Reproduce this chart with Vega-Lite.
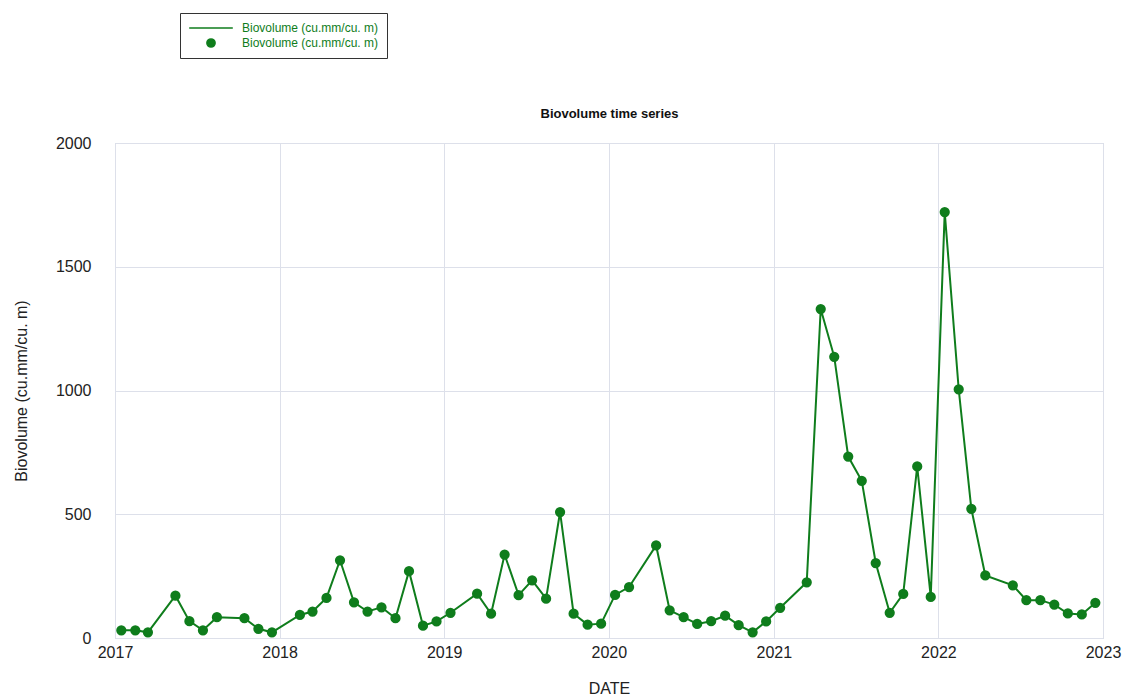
{
  "$schema": "https://vega.github.io/schema/vega-lite/v6.json",
  "width": 988,
  "height": 495,
  "autosize": "none",
  "padding": {"left": 115, "top": 143, "right": 20, "bottom": 60},
  "background": "white",
  "config": {
    "font": "Liberation Sans",
    "view": {"stroke": "#c9ccd6", "strokeWidth": 1},
    "axis": {"gridColor": "#dde0ea", "gridWidth": 1, "domain": false, "ticks": false, "labelFontSize": 16, "labelColor": "#222", "titleFontSize": 16, "titleFontWeight": "normal", "titleColor": "#222"}
  },
  "data": {"values": [
    {"date": "2017-01-15", "v": 31, "kind": "point"},
    {"date": "2017-02-15", "v": 31, "kind": "point"},
    {"date": "2017-03-15", "v": 23, "kind": "point"},
    {"date": "2017-05-15", "v": 171, "kind": "point"},
    {"date": "2017-06-15", "v": 68, "kind": "point"},
    {"date": "2017-07-15", "v": 31, "kind": "point"},
    {"date": "2017-08-15", "v": 84, "kind": "point"},
    {"date": "2017-10-15", "v": 80, "kind": "point"},
    {"date": "2017-11-15", "v": 37, "kind": "point"},
    {"date": "2017-12-15", "v": 23, "kind": "point"},
    {"date": "2018-02-15", "v": 93, "kind": "point"},
    {"date": "2018-03-15", "v": 107, "kind": "point"},
    {"date": "2018-04-15", "v": 162, "kind": "point"},
    {"date": "2018-05-15", "v": 314, "kind": "point"},
    {"date": "2018-06-15", "v": 144, "kind": "point"},
    {"date": "2018-07-15", "v": 107, "kind": "point"},
    {"date": "2018-08-15", "v": 124, "kind": "point"},
    {"date": "2018-09-15", "v": 80, "kind": "point"},
    {"date": "2018-10-15", "v": 270, "kind": "point"},
    {"date": "2018-11-15", "v": 50, "kind": "point"},
    {"date": "2018-12-15", "v": 67, "kind": "point"},
    {"date": "2019-01-15", "v": 102, "kind": "point"},
    {"date": "2019-03-15", "v": 179, "kind": "point"},
    {"date": "2019-04-15", "v": 98, "kind": "point"},
    {"date": "2019-05-15", "v": 337, "kind": "point"},
    {"date": "2019-06-15", "v": 173, "kind": "point"},
    {"date": "2019-07-15", "v": 233, "kind": "point"},
    {"date": "2019-08-15", "v": 159, "kind": "point"},
    {"date": "2019-09-15", "v": 509, "kind": "point"},
    {"date": "2019-10-15", "v": 98, "kind": "point"},
    {"date": "2019-11-15", "v": 54, "kind": "point"},
    {"date": "2019-12-15", "v": 58, "kind": "point"},
    {"date": "2020-01-15", "v": 174, "kind": "point"},
    {"date": "2020-02-15", "v": 206, "kind": "point"},
    {"date": "2020-04-15", "v": 374, "kind": "point"},
    {"date": "2020-05-15", "v": 112, "kind": "point"},
    {"date": "2020-06-15", "v": 84, "kind": "point"},
    {"date": "2020-07-15", "v": 57, "kind": "point"},
    {"date": "2020-08-15", "v": 68, "kind": "point"},
    {"date": "2020-09-15", "v": 90, "kind": "point"},
    {"date": "2020-10-15", "v": 52, "kind": "point"},
    {"date": "2020-11-15", "v": 23, "kind": "point"},
    {"date": "2020-12-15", "v": 67, "kind": "point"},
    {"date": "2021-01-15", "v": 122, "kind": "point"},
    {"date": "2021-03-15", "v": 225, "kind": "point"},
    {"date": "2021-04-15", "v": 1329, "kind": "point"},
    {"date": "2021-05-15", "v": 1136, "kind": "point"},
    {"date": "2021-06-15", "v": 733, "kind": "point"},
    {"date": "2021-07-15", "v": 635, "kind": "point"},
    {"date": "2021-08-15", "v": 303, "kind": "point"},
    {"date": "2021-09-15", "v": 102, "kind": "point"},
    {"date": "2021-10-15", "v": 178, "kind": "point"},
    {"date": "2021-11-15", "v": 693, "kind": "point"},
    {"date": "2021-12-15", "v": 166, "kind": "point"},
    {"date": "2022-01-15", "v": 1721, "kind": "point"},
    {"date": "2022-02-15", "v": 1005, "kind": "point"},
    {"date": "2022-03-15", "v": 522, "kind": "point"},
    {"date": "2022-04-15", "v": 253, "kind": "point"},
    {"date": "2022-06-15", "v": 213, "kind": "point"},
    {"date": "2022-07-15", "v": 153, "kind": "point"},
    {"date": "2022-08-15", "v": 153, "kind": "point"},
    {"date": "2022-09-15", "v": 135, "kind": "point"},
    {"date": "2022-10-15", "v": 99, "kind": "point"},
    {"date": "2022-11-15", "v": 95, "kind": "point"},
    {"date": "2022-12-15", "v": 142, "kind": "point"}
  ]},
  "resolve": {"axis": {"x": "independent"}},
  "layer": [
    {"mark": {"type": "line", "color": "#0f7d1c", "strokeWidth": 2},
     "encoding": {
       "x": {"field": "date", "type": "temporal", "title": "Biovolume time series",
         "scale": {"domain": ["2017-01-01T00:00:00", "2023-01-01T00:00:00"], "nice": false},
         "axis": {"orient": "top", "labels": false, "grid": false, "titleFontSize": 13, "titleFontWeight": "bold", "titleColor": "#111", "titlePadding": 23}},
       "y": {"field": "v", "type": "quantitative", "title": "Biovolume (cu.mm/cu. m)",
         "scale": {"domain": [0, 2000], "nice": false},
         "axis": {"values": [0, 500, 1000, 1500, 2000], "format": "d", "labelPadding": 24, "titlePadding": 26}}
     }},
    {"mark": {"type": "point", "filled": true, "opacity": 1, "fill": "#0f7d1c", "stroke": "#0f7d1c", "strokeWidth": 2},
     "encoding": {
       "x": {"field": "date", "type": "temporal", "title": "DATE",
         "scale": {"domain": ["2017-01-01T00:00:00", "2023-01-01T00:00:00"], "nice": false},
         "axis": {"format": "%Y", "grid": true, "tickCount": {"interval": "year", "step": 1}, "labelFlush": false, "labelPadding": 6, "titlePadding": 20, "labelOverlap": false}},
       "y": {"field": "v", "type": "quantitative"},
       "shape": {"field": "kind", "type": "nominal",
         "scale": {"domain": ["line", "point"], "range": ["stroke", "circle"]},
         "legend": {"title": null, "orient": "none", "legendX": 65, "legendY": -130,
           "labelExpr": "'Biovolume (cu.mm/cu. m)'", "labelFontSize": 12, "labelColor": "#0f7d1c",
           "strokeColor": "#333", "padding": 8, "rowPadding": 1, "labelOffset": 8, "clipHeight": 14}},
       "size": {"field": "kind", "type": "ordinal",
         "scale": {"domain": ["line", "point"], "range": [1900, 68]},
         "legend": {"title": null, "orient": "none", "legendX": 65, "legendY": -130,
           "labelExpr": "'Biovolume (cu.mm/cu. m)'", "labelFontSize": 12, "labelColor": "#0f7d1c",
           "strokeColor": "#333", "padding": 8, "rowPadding": 1, "labelOffset": 8, "clipHeight": 14}}
     }}
  ]
}
